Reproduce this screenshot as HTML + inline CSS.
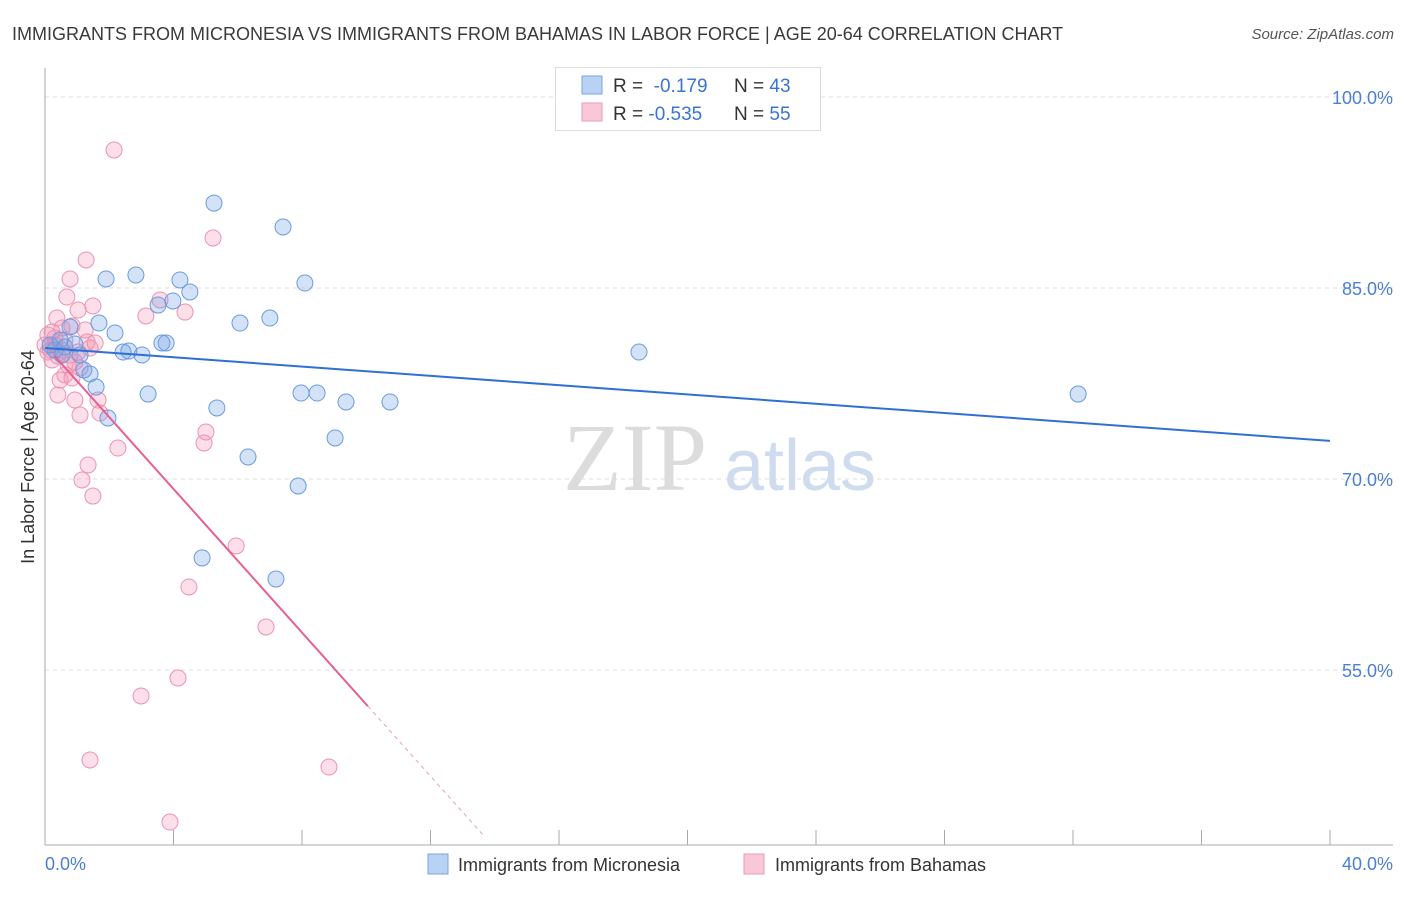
<!DOCTYPE html>
<html><head><meta charset="utf-8"><style>
body{margin:0;background:#fff;font-family:"Liberation Sans",sans-serif;}
</style></head><body>
<svg width="1406" height="892" xmlns="http://www.w3.org/2000/svg" style="font-family:'Liberation Sans',sans-serif">
<text x="12" y="40" font-size="18" fill="#3a3a3a">IMMIGRANTS FROM MICRONESIA VS IMMIGRANTS FROM BAHAMAS IN LABOR FORCE | AGE 20-64 CORRELATION CHART</text>
<text x="1394" y="39" font-size="15" fill="#555" text-anchor="end" font-style="italic">Source: ZipAtlas.com</text>
<g>
<text x="635" y="490" font-size="96" fill="#dcdcdc" text-anchor="middle" font-family="Liberation Serif,serif">ZIP</text>
<text x="800" y="490" font-size="72" fill="#cfdcf0" text-anchor="middle">atlas</text>
</g>
<g id="grid"></g>
<g id="axes"></g>
<g id="pts"></g>
<g id="lines"></g>
<text transform="translate(34,457) rotate(-90)" font-size="18" fill="#333" text-anchor="middle">In Labor Force | Age 20-64</text>
<text x="45" y="870" font-size="18" fill="#4a7fd4">0.0%</text>
<text x="1393" y="870" font-size="18" fill="#4a7fd4" text-anchor="end">40.0%</text>
<g>
<rect x="555.5" y="67.5" width="265" height="63" fill="#fff" stroke="#ddd"/>
<rect x="582" y="76" width="20" height="18" fill="#b9d2f3" stroke="#7aa3e0"/>
<rect x="582" y="103" width="20" height="18" fill="#f9c8d7" stroke="#eb9ab4"/>
<text x="613" y="92" font-size="19" fill="#333">R = <tspan fill="#3b74d0">&#160;-0.179</tspan><tspan x="734">N = </tspan><tspan fill="#3b74d0">43</tspan></text>
<text x="613" y="120" font-size="19" fill="#333">R = <tspan fill="#3b74d0">-0.535</tspan><tspan x="734">N = </tspan><tspan fill="#3b74d0">55</tspan></text>
</g>
<g>
<rect x="428" y="854" width="20" height="20" fill="#b9d2f3" stroke="#7aa3e0"/>
<text x="458" y="871" font-size="18" fill="#333">Immigrants from Micronesia</text>
<rect x="744" y="854" width="20" height="20" fill="#f9c8d7" stroke="#eb9ab4"/>
<text x="775" y="871" font-size="18" fill="#333">Immigrants from Bahamas</text>
</g>
</svg>
<script>
const yTicks=[100,85,70,55];
const yTickLabels=["100.0%","85.0%","70.0%","55.0%"];
const xTicks=[0,4,8,12,16,20,24,28,32,36,40];
const blueX=[5.26,7.41,2.83,1.90,4.20,8.09,4.51,3.52,3.98,1.68,6.07,7.00,2.18,3.77,3.64,2.43,2.61,3.02,0.47,0.62,0.31,0.78,0.93,1.21,1.40,1.59,3.21,7.97,8.47,9.37,10.74,5.35,1.96,9.03,6.32,7.88,4.89,7.19,18.49,32.16,0.16,0.53,1.09];
const blueY=[91.67,89.79,86.02,85.71,85.63,85.39,84.69,83.66,83.98,82.25,82.25,82.64,81.47,80.68,80.68,79.97,80.05,79.74,80.92,80.37,80.13,81.94,80.60,78.56,78.25,77.22,76.67,76.75,76.75,76.05,76.05,75.58,74.79,73.22,71.73,69.45,63.80,62.15,79.97,76.67,80.52,79.74,79.74];
const pinkX=[2.15,5.23,1.28,0.78,0.68,1.49,1.03,3.58,4.36,3.14,0.37,0.84,0.22,0.53,0.09,0.31,0.62,1.31,1.40,0.16,0.40,0.78,0.22,0.93,1.09,0.62,0.47,0.84,0.40,0.93,1.65,1.09,1.71,5.01,4.95,2.27,1.34,1.15,1.49,5.95,4.48,6.88,4.14,2.99,1.40,8.84,3.89,0.00,0.09,0.31,0.53,1.03,1.25,1.56,0.72];
const pinkY=[95.84,88.93,87.20,85.71,84.29,83.59,83.27,84.06,83.11,82.80,82.64,82.02,81.54,81.86,81.31,81.07,80.92,80.76,80.29,80.13,79.66,79.74,79.35,79.19,78.72,78.17,77.77,77.93,76.60,76.20,76.20,75.03,75.18,73.69,72.83,72.43,71.10,69.92,68.66,64.74,61.52,58.38,54.37,52.96,47.93,47.38,43.06,80.52,79.97,80.52,80.13,79.97,81.70,80.68,78.95];
const blueTrend=[80.29,72.99];
const pinkTrend=[80.5,-2.82];
const pinkSolidEnd=10.05, pinkDashEnd=13.7;
const X=v=>45+v*32.125, Y=v=>97+(100-v)*12.733;
const NS="http://www.w3.org/2000/svg";
function mk(t,a,p){const e=document.createElementNS(NS,t);for(const k in a)e.setAttribute(k,a[k]);p.appendChild(e);return e;}
const grid=document.getElementById('grid');
yTicks.forEach((t,i)=>{
const l=mk('line',{x1:45,x2:1393,y1:Y(t),y2:Y(t),stroke:'#ddd','stroke-dasharray':'4,4'},grid);


const tx=mk('text',{x:1393,y:Y(t)+7,'font-size':18,fill:'#4a7fd4','text-anchor':'end'},grid);
tx.textContent=yTickLabels[i];


});
const axes=document.getElementById('axes');
const ya=mk('line',{x1:45,x2:45,y1:68,y2:845,stroke:'#aaa'},axes);


const xa=mk('line',{x1:45,x2:1393,y1:845,y2:845,stroke:'#aaa'},axes);


xTicks.forEach(t=>{
const l=mk('line',{x1:X(t),x2:X(t),y1:830,y2:845,stroke:'#aaa'},axes);


});
const pts=document.getElementById('pts');
pinkX.forEach((x,i)=>{
const c=mk('circle',{cx:X(x),cy:Y(pinkY[i]),r:8,fill:'rgba(244,150,180,0.3)',stroke:'#eb93b0','stroke-width':1},pts);


});
blueX.forEach((x,i)=>{
const c=mk('circle',{cx:X(x),cy:Y(blueY[i]),r:8,fill:'rgba(110,160,230,0.3)',stroke:'#6a9be0','stroke-width':1},pts);


});
const lines=document.getElementById('lines');
const bl=mk('line',{x1:X(0),y1:Y(blueTrend[0]),x2:X(40),y2:Y(blueTrend[1]),stroke:'#2f6fd6','stroke-width':2},lines);


const py=x=>pinkTrend[0]+pinkTrend[1]*x;
const pl=mk('line',{x1:X(0.3),y1:Y(py(0.3)),x2:X(pinkSolidEnd),y2:Y(py(pinkSolidEnd)),stroke:'#e8608f','stroke-width':2},lines);


const pd=mk('line',{x1:X(pinkSolidEnd),y1:Y(py(pinkSolidEnd)),x2:X(pinkDashEnd),y2:Y(py(pinkDashEnd)),stroke:'#e8a0b8','stroke-width':1,'stroke-dasharray':'4,4'},lines);


</script>
</body></html>
